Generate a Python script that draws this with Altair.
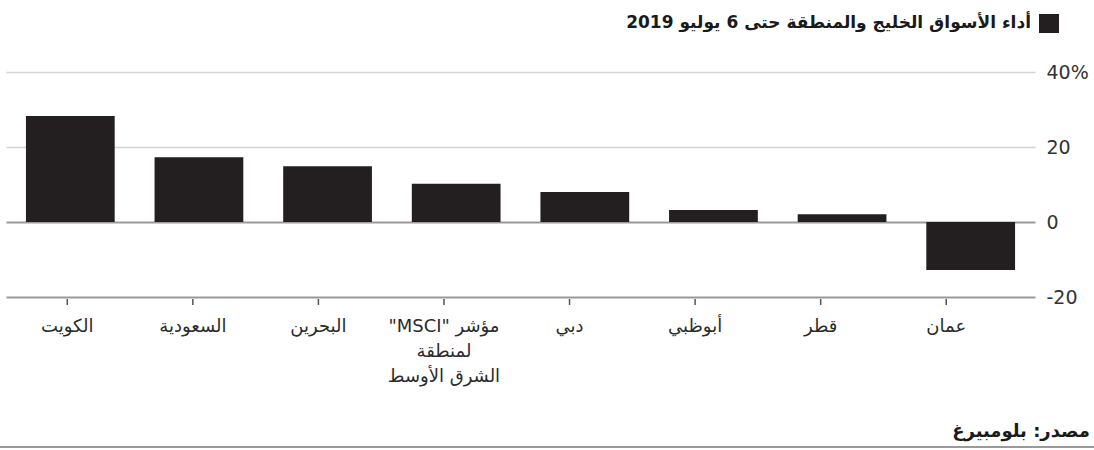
import altair as alt
import pandas as pd

# ---- data ----
markets = ["الكويت", "السعودية", "البحرين", "\"MSCI\" مؤشر\nلمنطقة\nالشرق الأوسط",
           "دبي", "أبوظبي", "قطر", "عمان"]
returns = [28.3, 17.3, 14.9, 10.2, 8.0, 3.2, 2.1, -12.8]
y_ticks = [-20, 0, 20, 40]
title_text = "أداء الأسواق الخليج والمنطقة حتى 6 يوليو 2019"
source_text = "مصدر: بلومبيرغ"

df = pd.DataFrame({"market": markets, "ret": returns, "idx": list(range(len(markets)))})

W, H = 1029, 225
FONT = "DejaVu Sans"

bars = alt.Chart(df).mark_bar(color="#231f20").encode(
    x=alt.X("market:N", sort=None, axis=None,
            scale=alt.Scale(paddingInner=0.31, paddingOuter=0.155)),
    y=alt.Y("ret:Q",
            scale=alt.Scale(domain=[-20, 40], nice=False),
            axis=alt.Axis(orient="right", values=y_ticks, title=None,
                          domain=False, ticks=False,
                          labelExpr="datum.value == 40 ? '40%' : '' + datum.value",
                          labelFont=FONT, labelFontSize=19, labelColor="#333333",
                          labelPadding=11,
                          gridColor={"condition": {"test": "datum.value <= 0", "value": "#9a9a9a"},
                                     "value": "#d4d4d4"},
                          gridWidth={"condition": {"test": "datum.value <= 0", "value": 2},
                                     "value": 1.5})),
)

xq = alt.X("idx:Q", axis=None, scale=alt.Scale(domain=[-0.488, 7.707], nice=False, zero=False))

ticks = alt.Chart(df).mark_rule(color="#555555", strokeWidth=1.5).encode(
    x=xq, y=alt.value(H + 2), y2=alt.value(H + 8)
)

labels = alt.Chart(df).mark_text(
    font=FONT, fontSize=18, color="#2b2b2b", baseline="top", align="center",
    lineBreak="\n", lineHeight=25
).encode(x=xq, y=alt.value(H + 21), text="market:N")

title = alt.Chart(pd.DataFrame({"t": [title_text]})).mark_text(
    font=FONT, fontSize=17, fontWeight="bold", color="#1a1a1a", align="right", baseline="middle"
).encode(x=alt.value(1025), y=alt.value(-49), text="t:N")

legend_sq = alt.Chart(pd.DataFrame({"t": [title_text]})).mark_rect(color="#231f20").encode(
    x=alt.value(1033), x2=alt.value(1053), y=alt.value(-58), y2=alt.value(-39)
)

source = alt.Chart(pd.DataFrame({"t": [source_text]})).mark_text(
    font=FONT, fontSize=18, fontWeight="bold", color="#1a1a1a", align="right", baseline="middle"
).encode(x=alt.value(1084), y=alt.value(360), text="t:N")

bottom_line = alt.Chart(pd.DataFrame({"t": [0]})).mark_rule(color="#9a9a9a", strokeWidth=2).encode(
    x=alt.value(-6), x2=alt.value(1088), y=alt.value(375)
)

chart = alt.layer(bars, ticks, labels, title, legend_sq, source, bottom_line).resolve_scale(
    x="independent"
).properties(
    width=W, height=H,
    padding={"left": 6, "top": 72, "right": 59, "bottom": 153},
    autosize=alt.AutoSizeParams(type="none"),
    background="white",
).configure_view(stroke=None)

chart.save("out.html", embed_options={"renderer": "svg", "actions": False})
